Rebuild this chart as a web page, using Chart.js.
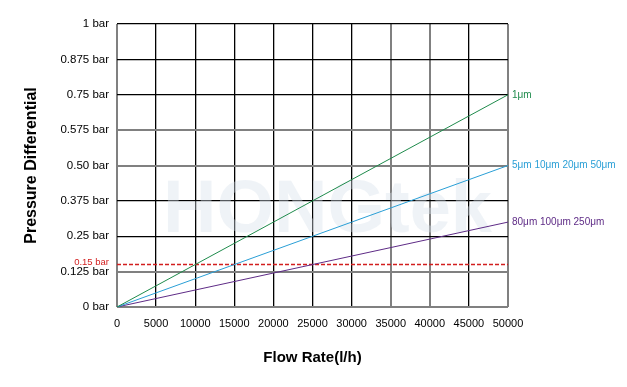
<!DOCTYPE html>
<html><head><meta charset="utf-8">
<script src="https://cdn.jsdelivr.net/npm/chart.js@4"></script>
<style>html,body{margin:0;padding:0;background:#fff}#wrap{width:627px;height:387px}</style>
</head><body><div id="wrap"><canvas id="c" width="627" height="387"></canvas></div>
<script>
const flowRates = [0, 50000];
const seriesNames = ["1μm", "5μm 10μm 20μm 50μm", "80μm 100μm 250μm"];
const series1um = [0, 0.75];
const series5to50um = [0, 0.50];
const series80to250um = [0, 0.30];
const seriesColors = ["#1f8b4c", "#2a9fd6", "#5e2b86"];
const limitValue = 0.15;
const limitLabel = "0.15 bar";
const yTickValues = [0, 0.125, 0.25, 0.375, 0.5, 0.625, 0.75, 0.875, 1];
const yTickLabels = ["0 bar", "0.125 bar", "0.25 bar", "0.375 bar", "0.50 bar", "0.575 bar", "0.75 bar", "0.875 bar", "1 bar"];
const xTickLabels = [0, 5000, 10000, 15000, 20000, 25000, 30000, 35000, 40000, 45000, 50000];
const grayY = [0, 0.125, 0.5, 0.625];
const grayX = [0, 35000, 40000, 50000];

const FONT = "'Liberation Sans', Arial, sans-serif";

const endLabels = {
  id: 'endLabels',
  afterDatasetsDraw(chart) {
    const ctx = chart.ctx;
    ctx.save();
    ctx.font = "10px " + FONT;
    ctx.textBaseline = 'middle';
    chart.data.datasets.forEach((ds, i) => {
      if (!ds.endLabel) return;
      const meta = chart.getDatasetMeta(i);
      const p = meta.data[meta.data.length - 1];
      ctx.fillStyle = ds.borderColor;
      ctx.textAlign = 'left';
      ctx.fillText(ds.label, p.x + 4, p.y);
    });
    const y = chart.scales.y.getPixelForValue(limitValue);
    ctx.fillStyle = "#d21f1f";
    ctx.textAlign = 'right';
    ctx.font = "9.5px " + FONT;
    ctx.fillText(limitLabel, chart.chartArea.left - 8, y - 2);
    ctx.restore();
  }
};

const watermark = {
  id: 'watermark',
  beforeDatasetsDraw(chart) {
    const ctx = chart.ctx;
    const a = chart.chartArea;
    ctx.save();
    ctx.font = "bold 74px " + FONT;
    ctx.fillStyle = "rgba(215,226,236,0.4)";
    ctx.textAlign = 'center';
    ctx.textBaseline = 'middle';
    ctx.fillText("HONGtek", (a.left + a.right) / 2 + 15, 212);
    ctx.restore();
  }
};

const toPts = arr => flowRates.map((x, i) => ({x, y: arr[i]}));

new Chart(document.getElementById('c'), {
  type: 'line',
  data: {
    datasets: [
      {label: seriesNames[0], data: toPts(series1um), borderColor: seriesColors[0], borderWidth: 1, pointRadius: 0, endLabel: true},
      {label: seriesNames[1], data: toPts(series5to50um), borderColor: seriesColors[1], borderWidth: 1, pointRadius: 0, endLabel: true},
      {label: seriesNames[2], data: toPts(series80to250um), borderColor: seriesColors[2], borderWidth: 1, pointRadius: 0, endLabel: true},
      {label: limitLabel, data: flowRates.map(x => ({x, y: limitValue})), borderColor: "#d21f1f", borderWidth: 1.5, borderDash: [4, 2], pointRadius: 0}
    ]
  },
  options: {
    responsive: false,
    animation: false,
    layout: {padding: {left: 14, right: 119, top: 24, bottom: 0}},
    plugins: {legend: {display: false}, tooltip: {enabled: false}},
    scales: {
      x: {
        type: 'linear', min: 0, max: 50000,
        afterBuildTicks(s) { s.ticks = xTickLabels.map(v => ({value: v})); },
        afterFit(s) { s.height = 80; },
        border: {display: false},
        grid: {
          drawTicks: false,
          color: c => grayX.includes(c.tick.value) ? "#808080" : "#000",
          lineWidth: c => grayX.includes(c.tick.value) ? 2 : 1.3
        },
        ticks: {color: "#000", font: {family: FONT, size: 11}, padding: 10, maxRotation: 0, autoSkip: false, callback: v => String(v)},
        title: {display: true, text: "Flow Rate(l/h)", color: "#000", font: {family: FONT, size: 15, weight: 'bold'}, padding: {top: 0, bottom: 20}}
      },
      y: {
        type: 'linear', min: 0, max: 1,
        afterBuildTicks(s) { s.ticks = yTickValues.map(v => ({value: v})); },
        afterFit(s) { s.width = 103; },
        border: {display: false},
        grid: {
          drawTicks: false,
          color: c => grayY.includes(c.tick.value) ? "#808080" : "#000",
          lineWidth: c => grayY.includes(c.tick.value) ? 2 : 1.3
        },
        ticks: {color: "#000", font: {family: FONT, size: 11.5}, padding: 8, autoSkip: false,
          callback: (v) => { const i = yTickValues.indexOf(v); return i >= 0 ? yTickLabels[i] : ''; }},
        title: {display: true, text: "Pressure Differential", color: "#000", font: {family: FONT, size: 16, weight: 'bold'}, padding: {top: 8, bottom: 0}}
      }
    }
  },
  plugins: [watermark, endLabels]
});
</script></body></html>
